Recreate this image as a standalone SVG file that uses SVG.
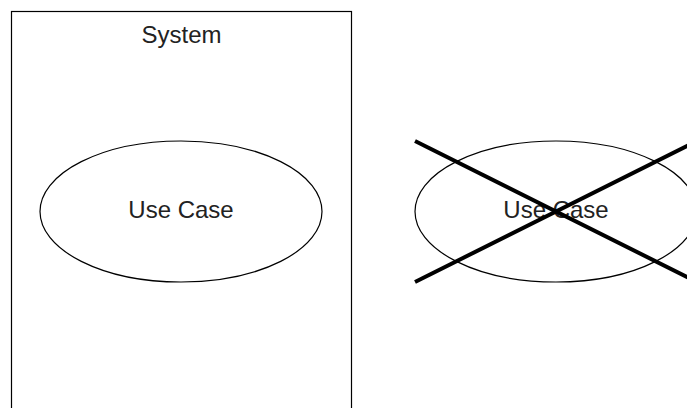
<svg xmlns="http://www.w3.org/2000/svg" width="687" height="408" viewBox="0 0 687 408">
  <style>
    .shape { fill: #ffffff; stroke: #000000; stroke-width: 1.2; }
    .label { font-family: "Liberation Sans", Arial, Helvetica, sans-serif; font-size: 24px; fill: #222222; text-anchor: middle; }
    .cross { stroke: #000000; stroke-width: 4; stroke-linecap: butt; }
  </style>
  <rect width="687" height="408" fill="#ffffff"/>
  <g id="system">
    <rect class="shape" x="11.5" y="11.5" width="340" height="440"/>
    <text class="label" x="181.5" y="43">System</text>
  </g>
  <g id="use-case">
    <ellipse class="shape" cx="181" cy="211.5" rx="141" ry="70.5"/>
    <text class="label" x="181" y="218">Use Case</text>
  </g>
  <g id="use-case-removed">
    <ellipse class="shape" cx="556" cy="211.5" rx="141" ry="70.5"/>
    <text class="label" x="556" y="218">Use Case</text>
  </g>
  <g id="connectors">
    <line class="cross" x1="415" y1="141" x2="697" y2="282"/>
    <line class="cross" x1="415" y1="282" x2="697" y2="141"/>
  </g>
</svg>
